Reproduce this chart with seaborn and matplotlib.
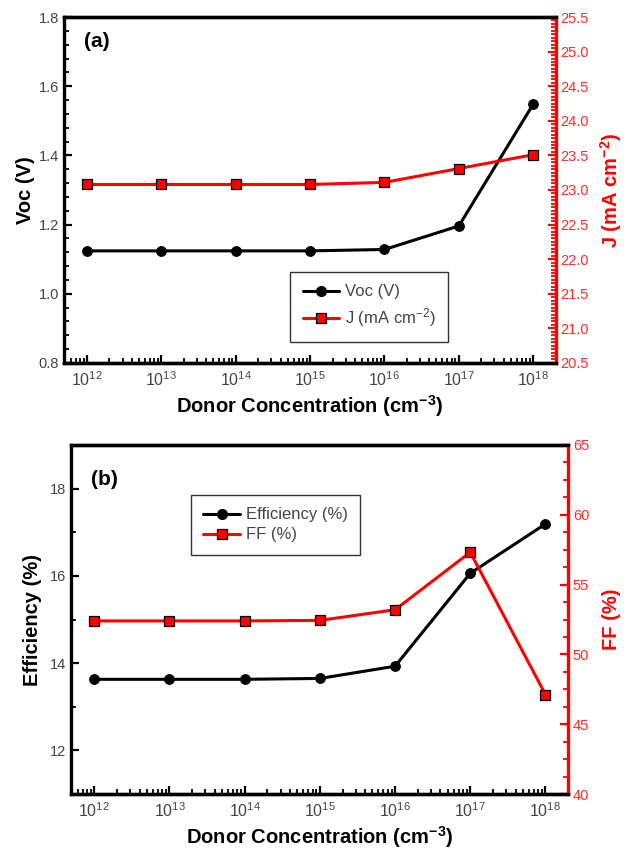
import matplotlib
matplotlib.use("Agg")
import matplotlib.pyplot as plt
import seaborn as sns
from matplotlib.ticker import AutoMinorLocator, LogLocator, FixedLocator, NullFormatter, MultipleLocator
from matplotlib.lines import Line2D

# Device simulation results vs. donor concentration
donor = [1e12, 1e13, 1e14, 1e15, 1e16, 1e17, 1e18]
voc = [1.124, 1.124, 1.124, 1.124, 1.128, 1.196, 1.548]
jsc = [23.08, 23.08, 23.08, 23.08, 23.11, 23.31, 23.51]
eff = [13.63, 13.63, 13.63, 13.65, 13.93, 16.06, 17.19]
ff = [52.4, 52.4, 52.4, 52.44, 53.2, 57.32, 47.13]

xtick_vals = [1e12, 1e13, 1e14, 1e15, 1e16, 1e17, 1e18]
xtick_labels = ["10$^{12}$", "10$^{13}$", "10$^{14}$", "10$^{15}$",
                "10$^{16}$", "10$^{17}$", "10$^{18}$"]

sns.set_theme(style="white")
plt.rcParams["font.family"] = ["Liberation Sans", "DejaVu Sans"]
plt.rcParams["mathtext.default"] = "regular"
plt.rcParams["xtick.direction"] = "in"
plt.rcParams["ytick.direction"] = "in"

RED = "#ff0000"
TICKRED = "#ff2a2a"
GREY = "#444444"
XLIM = (10 ** 11.69, 10 ** 18.3)

fig = plt.figure(figsize=(6.25, 8.52), dpi=100)
ax1 = fig.add_axes([0.1024, 0.574, 0.7864, 0.406])
ax2 = fig.add_axes([0.1136, 0.068, 0.7952, 0.4097])


def style_axes(ax, axr, ylim, yrlim, lmaj, lmin, rmaj, rmin):
    for a in (ax, axr):
        a.set_xscale("log")
        a.set_xlim(*XLIM)
    ax.set_ylim(*ylim)
    axr.set_ylim(*yrlim)
    ax.yaxis.set_major_locator(MultipleLocator(lmaj))
    ax.yaxis.set_minor_locator(AutoMinorLocator(lmin))
    axr.yaxis.set_major_locator(MultipleLocator(rmaj))
    axr.yaxis.set_minor_locator(AutoMinorLocator(rmin))
    ax.xaxis.set_major_locator(FixedLocator(xtick_vals))
    ax.set_xticklabels(xtick_labels)
    ax.xaxis.set_minor_locator(LogLocator(base=10, subs=range(2, 10), numticks=20))
    ax.xaxis.set_minor_formatter(NullFormatter())
    for sp in ("left", "bottom", "top"):
        ax.spines[sp].set_linewidth(2.4)
        ax.spines[sp].set_color("black")
        axr.spines[sp].set_linewidth(2.4)
        axr.spines[sp].set_color("black")
    ax.spines["right"].set_visible(False)
    axr.spines["right"].set_linewidth(2.4)
    axr.spines["right"].set_color(RED)
    axr.spines["left"].set_visible(False)
    ax.tick_params(axis="x", which="major", direction="in", length=6, width=1.6,
                   labelsize=11.5, labelcolor=GREY, color="black", pad=5, top=False, bottom=True)
    ax.tick_params(axis="x", which="minor", direction="in", length=3.5, width=1.3,
                   color="black", top=False, bottom=True)
    ax.tick_params(axis="y", which="major", direction="in", length=6, width=1.6,
                   labelsize=10.5, labelcolor=GREY, color="black", left=True, right=False)
    ax.tick_params(axis="y", which="minor", direction="in", length=3.5, width=1.3,
                   color="black", left=True, right=False)
    axr.tick_params(axis="y", which="major", direction="in", length=6, width=1.6,
                    labelsize=10.5, labelcolor=TICKRED, color=RED, right=True, left=False)
    axr.tick_params(axis="y", which="minor", direction="in", length=3.5, width=1.3,
                    color=RED, right=True, left=False)
    axr.tick_params(axis="x", which="both", bottom=False, top=False, labelbottom=False)
    ax.grid(False)
    axr.grid(False)


def legend_handles():
    return [Line2D([], [], color="black", marker="o", markersize=7, linewidth=2.2),
            Line2D([], [], color=RED, marker="s", markersize=6.5, markerfacecolor=RED,
                   markeredgecolor="black", markeredgewidth=0.9, linewidth=2.2)]


# ---- (a) Voc and J ----
ax1r = ax1.twinx()
sns.lineplot(x=donor, y=voc, ax=ax1, color="black", marker="o", markersize=7,
             markeredgecolor="black", linewidth=2.2, label="Voc (V)", legend=False)
sns.lineplot(x=donor, y=jsc, ax=ax1r, color=RED, marker="s", markersize=6.5,
             markerfacecolor=RED, markeredgecolor="black", markeredgewidth=0.9,
             linewidth=2.2, label="J (mA cm$^{-2}$)", legend=False)
style_axes(ax1, ax1r, (0.8, 1.8), (20.5, 25.5), 0.2, 5, 0.5, 10)
ax1.set_ylabel("Voc (V)", fontsize=14.5, fontweight="bold", color="black", labelpad=3)
ax1r.set_ylabel("J (mA cm$^{-2}$)", fontsize=14.5, fontweight="bold", color=RED, labelpad=7)
ax1.set_xlabel("Donor Concentration (cm$^{-3}$)", fontsize=14.5, fontweight="bold",
               color="black", labelpad=3)
ax1.text(0.04, 0.93, "(a)", transform=ax1.transAxes, fontsize=15, fontweight="bold",
         va="center", ha="left", color="black")
leg1 = ax1r.legend(legend_handles(), ["Voc (V)", "J (mA cm$^{-2}$)"], loc="upper left",
                   bbox_to_anchor=(0.46, 0.263), borderaxespad=0, fontsize=12,
                   frameon=True, fancybox=False, edgecolor="black", handlelength=2.2,
                   borderpad=0.75, labelspacing=0.4, handletextpad=0.35)
leg1.get_frame().set_linewidth(1.0)
for t in leg1.get_texts():
    t.set_color(GREY)

# ---- (b) Efficiency and FF ----
ax2r = ax2.twinx()
sns.lineplot(x=donor, y=eff, ax=ax2, color="black", marker="o", markersize=7,
             markeredgecolor="black", linewidth=2.2, label="Efficiency (%)", legend=False)
sns.lineplot(x=donor, y=ff, ax=ax2r, color=RED, marker="s", markersize=6.5,
             markerfacecolor=RED, markeredgecolor="black", markeredgewidth=0.9,
             linewidth=2.2, label="FF (%)", legend=False)
style_axes(ax2, ax2r, (11, 19), (40, 65), 2, 2, 5, 4)
ax2.set_ylabel("Efficiency (%)", fontsize=14.5, fontweight="bold", color="black", labelpad=6)
ax2r.set_ylabel("FF (%)", fontsize=14.5, fontweight="bold", color=RED, labelpad=9)
ax2.set_xlabel("Donor Concentration (cm$^{-3}$)", fontsize=14.5, fontweight="bold",
               color="black", labelpad=3)
ax2.text(0.04, 0.9, "(b)", transform=ax2.transAxes, fontsize=15, fontweight="bold",
         va="center", ha="left", color="black")
leg2 = ax2r.legend(legend_handles(), ["Efficiency (%)", "FF (%)"], loc="upper left",
                   bbox_to_anchor=(0.2414, 0.857), borderaxespad=0, fontsize=12,
                   frameon=True, fancybox=False, edgecolor="black", handlelength=2.2,
                   borderpad=0.75, labelspacing=0.3, handletextpad=0.35)
leg2.get_frame().set_linewidth(1.0)
for t in leg2.get_texts():
    t.set_color(GREY)

fig.savefig("out.png", dpi=100)
